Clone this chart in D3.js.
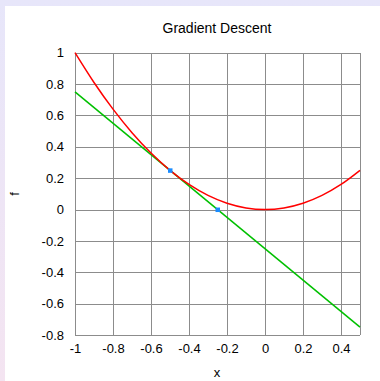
<!DOCTYPE html>
<html><head><meta charset="utf-8">
<script src="https://cdn.jsdelivr.net/npm/d3@7"></script>
<style>
html,body{margin:0;padding:0;overflow:hidden;}
svg{display:block;font-family:"Liberation Sans",Arial,sans-serif;}
</style></head>
<body>
<svg id="c" width="380" height="381"></svg>
<script>
// Data
const title = "Gradient Descent";
const xLabel = "x";
const yLabel = "f";
const xTicks = [-1, -0.8, -0.6, -0.4, -0.2, 0, 0.2, 0.4];
const yTicks = [-0.8, -0.6, -0.4, -0.2, 0, 0.2, 0.4, 0.6, 0.8, 1];
const xGrid = [-1, -0.8, -0.6, -0.4, -0.2, 0, 0.2, 0.4, 0.5];
const curveX = [-1, -0.9, -0.8, -0.7, -0.6, -0.5, -0.4, -0.3, -0.2, -0.1, 0, 0.1, 0.2, 0.3, 0.4, 0.5];
const curveF = [1, 0.81, 0.64, 0.49, 0.36, 0.25, 0.16, 0.09, 0.04, 0.01, 0, 0.01, 0.04, 0.09, 0.16, 0.25];
const tangentX = [-1, 0.5];
const tangentF = [0.75, -0.75];
const pointsX = [-0.5, -0.25];
const pointsF = [0.25, 0];

const svg = d3.select("#c");
const defs = svg.append("defs");
const g = defs.append("linearGradient").attr("id","bg").attr("x1",0).attr("y1",0).attr("x2",0).attr("y2",1);
g.append("stop").attr("offset","0%").attr("stop-color","#e7e6fa");
g.append("stop").attr("offset","100%").attr("stop-color","#f4e4f1");
svg.append("rect").attr("width",380).attr("height",381).attr("fill","url(#bg)");
svg.append("rect").attr("x",5).attr("y",6).attr("width",375).attr("height",375).attr("fill","#fff");

const x = d3.scaleLinear().domain([-1, 0.5]).range([75, 360]);
const y = d3.scaleLinear().domain([-0.8, 1]).range([335, 52.7]);

const grid = svg.append("g").attr("stroke","#8c8c8c").attr("stroke-width",1).attr("shape-rendering","crispEdges");
xGrid.forEach(v => grid.append("line").attr("x1",Math.round(x(v))+0.5).attr("x2",Math.round(x(v))+0.5).attr("y1",y(1)).attr("y2",y(-0.8)));
yTicks.forEach(v => grid.append("line").attr("y1",Math.round(y(v))+0.5).attr("y2",Math.round(y(v))+0.5).attr("x1",x(-1)).attr("x2",x(0.5)));

const fmt = d => String(+d.toFixed(2));
const xAxis = d3.axisBottom(x).tickValues(xTicks).tickSize(0).tickPadding(9).tickFormat(fmt);
const yAxis = d3.axisLeft(y).tickValues(yTicks).tickSize(0).tickPadding(11).tickFormat(fmt);
const xa = svg.append("g").attr("transform","translate(0,335)").call(xAxis);
const ya = svg.append("g").attr("transform","translate(75,0)").call(yAxis);
[xa, ya].forEach(a => {
  a.select(".domain").remove();
  a.selectAll("text").attr("font-size",13).attr("fill","#000").attr("font-family","'Liberation Sans',Arial,sans-serif");
});

const line = d3.line().x(d => x(d[0])).y(d => y(d[1]));
svg.append("path").datum(tangentX.map((v,i)=>[v,tangentF[i]]))
  .attr("d", line).attr("fill","none").attr("stroke","#00c000").attr("stroke-width",1.5);
svg.append("path").datum(curveX.map((v,i)=>[v,curveF[i]]))
  .attr("d", line.curve(d3.curveCatmullRom)).attr("fill","none").attr("stroke","#ff0000").attr("stroke-width",1.5);

svg.selectAll("rect.pt").data(pointsX.map((v,i)=>[v,pointsF[i]])).enter().append("rect")
  .attr("class","pt").attr("x",d=>x(d[0])-2).attr("y",d=>y(d[1])-2).attr("width",4.5).attr("height",4.5).attr("fill","#1a8cff");

svg.append("text").attr("x",217).attr("y",33).attr("text-anchor","middle").attr("font-size",14).text(title);
svg.append("text").attr("x",217).attr("y",377).attr("text-anchor","middle").attr("font-size",13).text(xLabel);
svg.append("text").attr("transform","translate(19,194) rotate(-90)").attr("text-anchor","middle").attr("font-size",13).text(yLabel);
</script>
</body></html>
